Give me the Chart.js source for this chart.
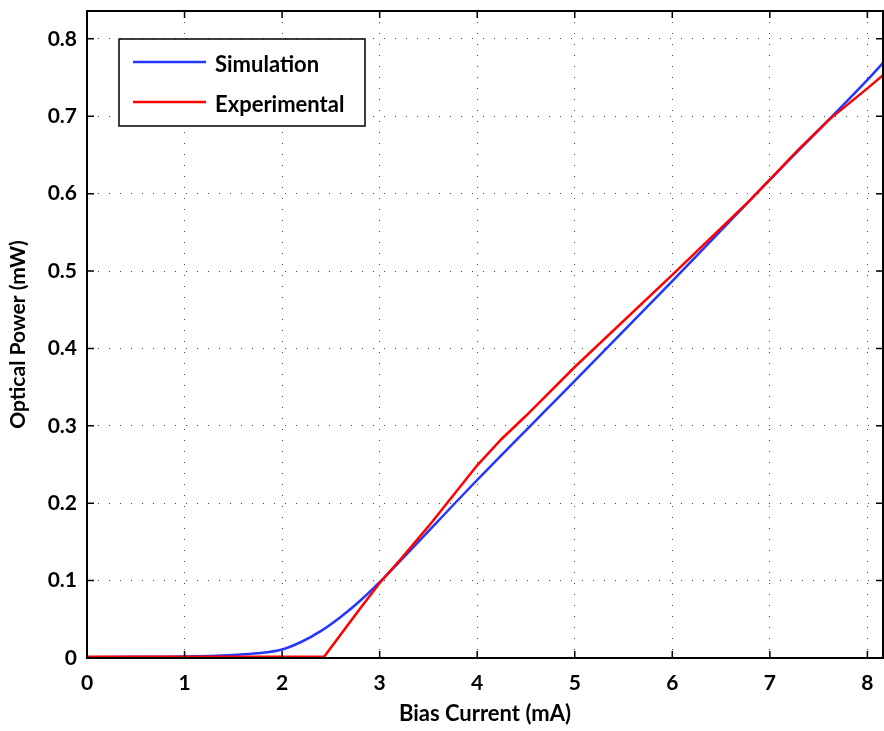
<!DOCTYPE html>
<html>
<head>
<meta charset="utf-8">
<script src="https://cdn.jsdelivr.net/npm/chart.js@4/dist/chart.umd.min.js"></script>
<style>
  html, body { margin: 0; padding: 0; background: #fff; }
  #wrap { width: 884px; height: 731px; }
</style>
</head>
<body>
<div id="wrap"><canvas id="lic" width="884" height="731"></canvas></div>
<script>
// values
var simCurrent = [0, 0.5, 1, 1.5, 1.75, 2, 2.2, 2.4, 2.6, 2.8, 3, 3.2, 4, 5, 6, 7, 8, 8.16];
var simPower = [0.001, 0.0015, 0.002, 0.004, 0.006, 0.011, 0.021, 0.035, 0.053, 0.074, 0.098, 0.124, 0.23, 0.358, 0.487, 0.618, 0.747, 0.769];
var expCurrent = [0, 1, 2, 2.43, 2.8, 3, 3.21, 3.5, 4, 4.25, 4.5, 5, 6, 6.8, 7, 7.3, 7.62, 8, 8.16];
var expPower = [0.0015, 0.0015, 0.0015, 0.0015, 0.064, 0.097, 0.127, 0.17, 0.249, 0.283, 0.313, 0.376, 0.495, 0.592, 0.618, 0.658, 0.697, 0.736, 0.753];
var xTicks = [0, 1, 2, 3, 4, 5, 6, 7, 8];
var yTicks = [0, 0.1, 0.2, 0.3, 0.4, 0.5, 0.6, 0.7, 0.8];
var seriesNames = ["Simulation", "Experimental"];

function pairs(xs, ys) {
    var out = [];
    for (var i = 0; i < xs.length; i++) {
        out.push({ x: xs[i], y: ys[i] });
    }
    return out;
}

var FONT = "Lato, 'Open Sans', sans-serif";

// box, inward ticks and legend like the matlab figure
var framePlugin = {
    id: "frame",
    afterDraw: function(chart) {
        var ctx = chart.ctx;
        var a = chart.chartArea;
        var xs = chart.scales.x;
        var ys = chart.scales.y;
        ctx.save();
        ctx.strokeStyle = "#000";
        ctx.lineWidth = 1.5;
        xTicks.forEach(function(v) {
            var px = xs.getPixelForValue(v);
            ctx.beginPath();
            ctx.moveTo(px, a.bottom); ctx.lineTo(px, a.bottom - 7);
            ctx.moveTo(px, a.top); ctx.lineTo(px, a.top + 7);
            ctx.stroke();
        });
        yTicks.forEach(function(v) {
            var py = ys.getPixelForValue(v);
            ctx.beginPath();
            ctx.moveTo(a.left, py); ctx.lineTo(a.left + 7, py);
            ctx.moveTo(a.right, py); ctx.lineTo(a.right - 7, py);
            ctx.stroke();
        });
        ctx.lineWidth = 2;
        ctx.strokeRect(a.left, a.top, a.right - a.left, a.bottom - a.top);

        // legend
        var lx = 119, ly = 39, lw = 246, lh = 87;
        ctx.fillStyle = "#fff";
        ctx.fillRect(lx, ly, lw, lh);
        ctx.lineWidth = 1.5;
        ctx.strokeRect(lx, ly, lw, lh);
        ctx.font = "bold 22px " + FONT;
        ctx.textBaseline = "middle";
        chart.data.datasets.forEach(function(ds, i) {
            var y = 62 + i * 40;
            ctx.strokeStyle = ds.borderColor;
            ctx.lineWidth = 2.5;
            ctx.beginPath();
            ctx.moveTo(133, y); ctx.lineTo(206, y);
            ctx.stroke();
            ctx.fillStyle = "#000";
            ctx.fillText(ds.label, 215, y + 3);
        });
        ctx.restore();
    }
};

var chartData = {
    datasets: [
        {
            label: seriesNames[0],
            data: pairs(simCurrent, simPower),
            borderColor: "rgb(35, 55, 255)",
            borderWidth: 2.5,
            pointRadius: 0,
            fill: false,
            cubicInterpolationMode: "monotone",
            order: 1
        },
        {
            label: seriesNames[1],
            data: pairs(expCurrent, expPower),
            borderColor: "rgb(255, 0, 0)",
            borderWidth: 2.5,
            pointRadius: 0,
            fill: false,
            lineTension: 0,
            order: 0
        }
    ]
};

var graph = new Chart(document.getElementById("lic"), {
    type: "line",
    data: chartData,
    plugins: [framePlugin],
    options: {
        responsive: false,
        devicePixelRatio: 1,
        animation: false,
        layout: { padding: { top: 11, right: 1, left: 0, bottom: 0 } },
        plugins: {
            legend: { display: false },
            tooltip: { enabled: false }
        },
        scales: {
            x: {
                type: "linear",
                min: 0,
                max: 8.16,
                afterFit: function(scale) {
                    scale.height = 73;
                    scale.paddingLeft = 0;
                    scale.paddingRight = 0;
                },
                ticks: {
                    stepSize: 1,
                    includeBounds: false,
                    padding: 13,
                    color: "#000",
                    maxRotation: 0,
                    font: { family: FONT, size: 21, weight: "bold" }
                },
                grid: { color: "#444", lineWidth: 1, drawTicks: false },
                border: { display: false, dash: [1, 10] },
                title: {
                    display: true,
                    text: "Bias Current (mA)",
                    color: "#000",
                    font: { family: FONT, size: 22, weight: "bold" },
                    padding: { top: 4, bottom: 4 }
                }
            },
            y: {
                type: "linear",
                min: 0,
                max: 0.836,
                afterFit: function(scale) {
                    scale.width = 87;
                    scale.paddingTop = 0;
                    scale.paddingBottom = 0;
                },
                ticks: {
                    stepSize: 0.1,
                    includeBounds: false,
                    padding: 10,
                    color: "#000",
                    font: { family: FONT, size: 21, weight: "bold" },
                    callback: function(v) { return v === 0 ? "0" : v.toFixed(1); }
                },
                grid: { color: "#444", lineWidth: 1, drawTicks: false },
                border: { display: false, dash: [1, 10] },
                title: {
                    display: true,
                    text: "Optical Power (mW)",
                    color: "#000",
                    font: { family: FONT, size: 21, weight: "bold" },
                    padding: { top: 6, bottom: 6 }
                }
            }
        }
    }
});
</script>
</body>
</html>
